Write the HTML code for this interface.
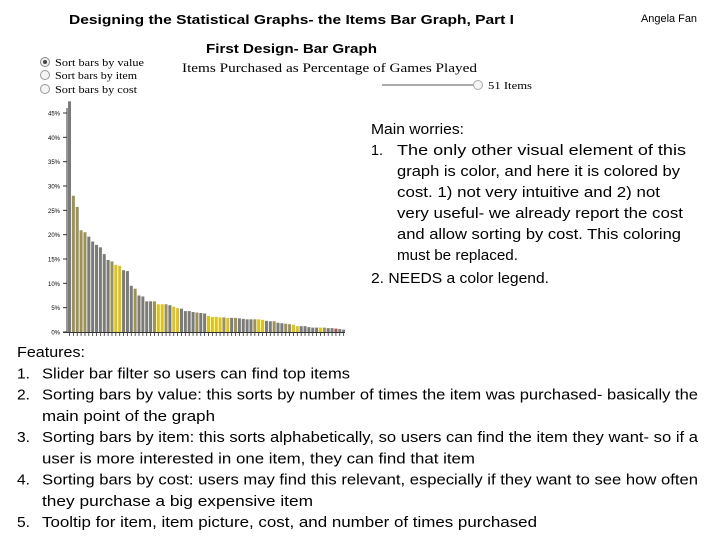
<!DOCTYPE html>
<html><head><meta charset="utf-8"><style>
body{margin:0;background:#fff;width:720px;height:540px;overflow:hidden}
svg{display:block}
.c{font-family:"Liberation Sans",sans-serif}
.s{font-family:"Liberation Serif",serif}
</style></head><body>
<svg id="root" width="720" height="540">
<g class="c" fill="#000">
<text x="69" y="24" font-size="13" font-weight="bold" textLength="445" lengthAdjust="spacingAndGlyphs">Designing the Statistical Graphs- the Items Bar Graph, Part I</text>
<text x="641" y="22" font-size="11" textLength="56" lengthAdjust="spacingAndGlyphs">Angela Fan</text>
<text x="206" y="53" font-size="13" font-weight="bold" textLength="171" lengthAdjust="spacingAndGlyphs">First Design- Bar Graph</text>
</g>
<text class="s" x="182" y="72" font-size="13" textLength="295" lengthAdjust="spacingAndGlyphs">Items Purchased as Percentage of Games Played</text>
<g class="s" font-size="11">
<g><circle cx="45" cy="62" r="4.5" fill="#eee" stroke="#888"/><circle cx="45" cy="62" r="2" fill="#444"/><text x="55" y="66" textLength="89" lengthAdjust="spacingAndGlyphs">Sort bars by value</text></g>
<g><circle cx="45" cy="75" r="4.5" fill="#f4f4f4" stroke="#999"/><text x="55" y="79" textLength="82" lengthAdjust="spacingAndGlyphs">Sort bars by item</text></g>
<g><circle cx="45" cy="89" r="4.5" fill="#f4f4f4" stroke="#999"/><text x="55" y="93" textLength="82" lengthAdjust="spacingAndGlyphs">Sort bars by cost</text></g>
<g><rect x="382" y="84" width="92" height="2" fill="#aaa"/><circle cx="478" cy="85" r="4.5" fill="#f4f4f4" stroke="#aaa"/></g>
<text x="488" y="89" textLength="44" lengthAdjust="spacingAndGlyphs">51 Items</text>
</g>
<g id="chart"></g>
<g class="c" font-size="15" id="worries"></g>
<g class="c" font-size="15" id="features"></g>
</svg>
<script>
const values=[47.4,28,25.7,20.9,20.5,19.6,18.6,17.9,17.4,16,14.8,14.5,13.8,13.6,12.7,12.5,9.5,8.9,7.5,7.3,6.3,6.3,6.3,5.7,5.7,5.7,5.5,5.2,4.9,4.8,4.3,4.3,4.1,4.0,3.9,3.8,3.3,3.1,3.1,3.0,3.0,2.9,2.9,2.9,2.8,2.7,2.6,2.6,2.6,2.6,2.5,2.3,2.2,2.2,1.9,1.8,1.7,1.6,1.5,1.2,1.2,1.2,1.0,0.9,0.9,0.9,0.9,0.8,0.8,0.7,0.6,0.5];
const colorCodes="gooooggggggoyygggoggggoyyogyyggggoggyyyyoygoggggoyyggoggooyygggggyoggrgg";
const ticks=[0,5,10,15,20,25,30,35,40,45];
const tickLabels=["0%","5%","10%","15%","20%","25%","30%","35%","40%","45%"];
const NS="http://www.w3.org/2000/svg";
const X0=67,X1=345,Y0=332,Y45=113;
const y=v=>Y0-(v/45)*(Y0-Y45);
const step=(X1-X0)/values.length;
const x=i=>X0+1+i*step;
const pal={g:"#7b7b78",o:"#9c9258",y:"#dcc21f",r:"#b05040"};
const chart=document.getElementById('chart');
function mk(t,a,p){const e=document.createElementNS(NS,t);for(const k in a)e.setAttribute(k,a[k]);(p||chart).appendChild(e);return e;}
const ax=mk('line',{x1:X0,y1:Y45-5,x2:X0,y2:Y0,stroke:'#333','stroke-width':1});


const xa=mk('line',{x1:X0-4,y1:Y0+0.5,x2:X1,y2:Y0+0.5,stroke:'#333','stroke-width':1});


ticks.forEach((t,i)=>{
 mk('line',{x1:X0-4,y1:y(t),x2:X0,y2:y(t),stroke:'#333'});
 const tx=mk('text',{x:X0-7,y:y(t)+2.5,'font-size':6,'text-anchor':'end','font-family':'Liberation Sans,sans-serif'});
 tx.textContent=tickLabels[i];
 
 
});
values.forEach((v,i)=>{
 const r=mk('rect',{x:x(i),y:y(v),width:step*0.78,height:Y0-y(v),fill:pal[colorCodes[i]]||pal.g});
 
 
 mk('line',{x1:x(i)+step*0.39,y1:Y0,x2:x(i)+step*0.39,y2:Y0+4,stroke:'#333','stroke-width':0.8});
});
function lines(id,arr){const g=document.getElementById(id);arr.forEach(l=>{const t=mk('text',{x:l[0],y:l[1],textLength:l[2]-l[0],lengthAdjust:'spacingAndGlyphs'},g);t.textContent=l[3];});}
lines('worries',[
[371,134,464,"Main worries:"],
[371,155,383,"1."],[397,155,686,"The only other visual element of this"],
[397,176,680,"graph is color, and here it is colored by"],
[397,197,660,"cost. 1) not very intuitive and 2) not"],
[397,218,683,"very useful- we already report the cost"],
[397,239,681,"and allow sorting by cost. This coloring"],
[397,260,518,"must be replaced."],
[371,283,549,"2. NEEDS a color legend."]]);
const fy=357,fp=21.25;
lines('features',[
[17,fy,85,"Features:"],
[17,fy+fp,30,"1."],[42,fy+fp,350,"Slider bar filter so users can find top items"],
[17,fy+2*fp,30,"2."],[42,fy+2*fp,698,"Sorting bars by value: this sorts by number of times the item was purchased- basically the"],
[42,fy+3*fp,215,"main point of the graph"],
[17,fy+4*fp,30,"3."],[42,fy+4*fp,698,"Sorting bars by item: this sorts alphabetically, so users can find the item they want- so if a"],
[42,fy+5*fp,475,"user is more interested in one item, they can find that item"],
[17,fy+6*fp,30,"4."],[42,fy+6*fp,698,"Sorting bars by cost: users may find this relevant, especially if they want to see how often"],
[42,fy+7*fp,313,"they purchase a big expensive item"],
[17,fy+8*fp,30,"5."],[42,fy+8*fp,537,"Tooltip for item, item picture, cost, and number of times purchased"]]);
</script>
</body></html>
